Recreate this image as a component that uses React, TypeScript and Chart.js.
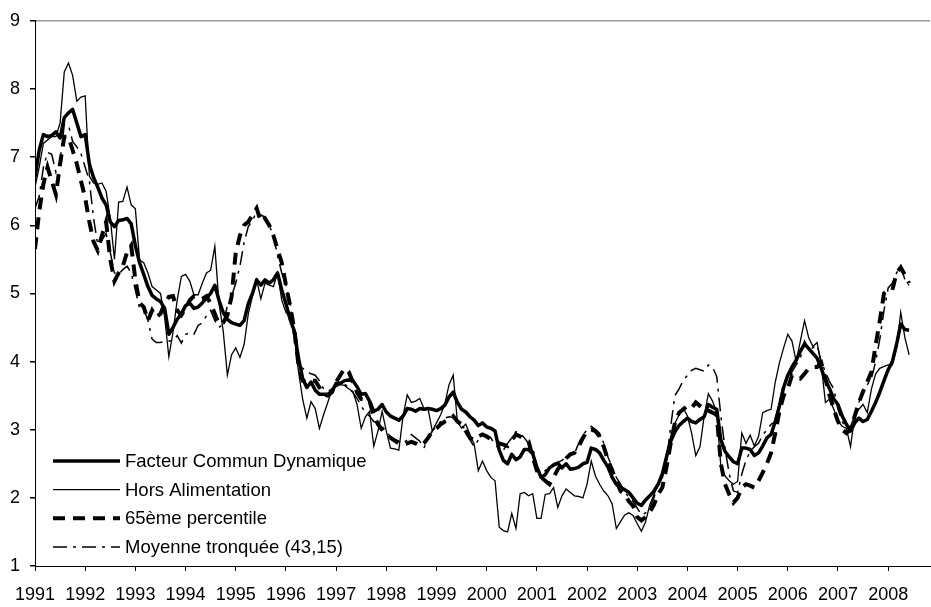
import React, { useEffect, useRef } from "react";
import { Chart, registerables } from "chart.js";

Chart.register(...registerables);

// Monthly observations, January 1991 to June 2008
const startYear = 1991;
const yearTicks = [1991, 1992, 1993, 1994, 1995, 1996, 1997, 1998, 1999, 2000, 2001, 2002, 2003, 2004, 2005, 2006, 2007, 2008];
const yTicks = [1, 2, 3, 4, 5, 6, 7, 8, 9];
const seriesNames = ["Facteur Commun Dynamique", "Hors Alimentation", "65ème percentile", "Moyenne tronquée (43,15)"];

const facteurCommun = [
  6.7, 7.1, 7.33, 7.3, 7.32, 7.37, 7.28, 7.58, 7.65, 7.7, 7.5, 7.3,
  7.33, 6.9, 6.7, 6.56, 6.4, 6.3, 6.05, 5.98, 6.07, 6.08, 6.1, 6.02,
  5.7, 5.45, 5.28, 5.1, 4.97, 4.92, 4.88, 4.78, 4.4, 4.5, 4.62, 4.7,
  4.82, 4.86, 4.78, 4.8, 4.86, 4.93, 5.0, 5.12, 4.9, 4.72, 4.62, 4.57,
  4.55, 4.53, 4.6, 4.85, 5.0, 5.2, 5.12, 5.2, 5.15, 5.2, 5.3, 5.05,
  4.85, 4.62, 4.45, 4.05, 3.75, 3.62, 3.7, 3.58, 3.52, 3.52, 3.52, 3.56,
  3.68, 3.68, 3.72, 3.73, 3.72, 3.63, 3.52, 3.53, 3.42, 3.27, 3.3, 3.37,
  3.26, 3.2, 3.17, 3.14, 3.2, 3.31, 3.3, 3.27, 3.31, 3.3, 3.31, 3.3,
  3.28, 3.31, 3.36, 3.48, 3.55, 3.4, 3.3, 3.26, 3.19, 3.14, 3.06, 3.1,
  3.04, 3.02, 2.98, 2.7, 2.55, 2.5, 2.64, 2.56, 2.6, 2.71, 2.71, 2.65,
  2.45, 2.3, 2.34, 2.44, 2.48, 2.51, 2.44, 2.5, 2.42, 2.43, 2.45, 2.5,
  2.52, 2.73, 2.71, 2.66, 2.55, 2.45, 2.3, 2.2, 2.15, 2.12, 2.08, 2.0,
  1.92, 1.89, 1.97, 2.03, 2.1, 2.2, 2.35, 2.6, 2.83, 2.97, 3.06, 3.12,
  3.17, 3.12, 3.1, 3.15, 3.19, 3.37, 3.33, 3.3, 2.85, 2.68, 2.6, 2.53,
  2.5, 2.73, 2.73, 2.71, 2.62, 2.66, 2.76, 2.88, 2.93, 3.12, 3.35, 3.62,
  3.8, 3.92, 4.02, 4.15, 4.26, 4.19, 4.12, 4.05, 3.9, 3.72, 3.6, 3.45,
  3.37, 3.2, 3.08, 2.98, 3.1, 3.17, 3.12, 3.15, 3.27, 3.4, 3.55, 3.72,
  3.88, 4.0, 4.25, 4.55, 4.47, 4.46,
];

const horsAlimentation = [
  6.56, 6.85, 7.2, 7.25, 7.3, 7.3, 7.5, 8.25, 8.38, 8.2, 7.82, 7.88,
  7.9, 6.72, 6.62, 6.6, 6.62, 6.5, 6.1, 5.5, 6.34, 6.35, 6.56, 6.3,
  6.24, 5.49, 5.45, 5.3, 5.1, 5.05, 5.0, 4.65, 4.07, 4.43, 4.9, 5.25,
  5.28, 5.18, 4.98, 4.98, 5.15, 5.3, 5.34, 5.69, 4.85, 4.45, 3.8, 4.1,
  4.2, 4.06, 4.25, 4.7, 4.96, 5.2, 4.92, 5.15, 5.12, 5.1, 5.3, 4.9,
  4.72, 4.65, 4.38, 3.85, 3.45, 3.17, 3.41, 3.31, 3.02, 3.22, 3.4, 3.59,
  3.63, 3.66, 3.65, 3.6, 3.56, 3.37, 3.02, 3.19, 3.27, 2.76, 2.98, 3.27,
  2.98, 2.73, 2.72, 2.7, 3.2, 3.51, 3.4, 3.42, 3.46, 3.31, 3.3, 2.98,
  3.1, 3.22, 3.38, 3.66, 3.8, 3.12, 3.02, 3.08, 2.93, 2.79, 2.4, 2.54,
  2.4, 2.3, 2.25, 1.57, 1.52, 1.5, 1.77, 1.55, 2.06, 2.08, 2.03, 2.06,
  1.7, 1.7, 2.05, 2.06, 2.15, 1.86, 2.03, 2.13, 2.08, 2.03, 2.02, 2.0,
  2.2, 2.54, 2.32, 2.2, 2.1, 2.03, 1.91, 1.55, 1.65, 1.75, 1.78, 1.74,
  1.62, 1.51, 1.65, 1.9, 2.05, 2.2, 2.35, 2.65, 2.9, 3.09, 3.22, 3.32,
  3.2, 2.95, 2.62, 2.75, 3.2, 3.53, 3.42, 3.25, 2.45, 2.32, 2.25, 2.2,
  2.24, 2.95, 2.8, 2.92, 2.76, 2.9, 3.25, 3.28, 3.3, 3.7, 3.98, 4.2,
  4.4, 4.3, 4.0, 4.3, 4.6, 4.35, 4.22, 4.28, 3.95, 3.4, 3.45, 3.3,
  3.12, 3.05, 3.02, 2.75, 3.2, 3.3, 3.37, 3.25, 3.6, 3.82, 3.9, 3.93,
  3.95, 3.95, 4.2, 4.72, 4.35, 4.1,
];

const percentile65 = [
  5.65, 6.2, 6.6, 6.85, 6.65, 6.45, 6.9, 7.3, 7.3, 7.1, 6.9, 6.65,
  6.4, 6.05, 5.76, 5.63, 5.85, 6.05, 5.5, 5.18, 5.3, 5.4, 5.6, 5.7,
  5.2, 4.86, 4.8, 4.6, 4.75, 4.65, 4.7, 4.85, 4.95, 4.96, 4.75, 4.68,
  4.78, 4.9, 4.96, 4.92, 4.92, 4.96, 4.85, 4.7, 4.55, 4.57, 4.68, 4.95,
  5.6, 5.85, 6.0, 6.05, 6.15, 6.25, 6.05, 6.1, 6.0, 5.85, 5.65, 5.45,
  5.12, 4.82, 4.47, 3.95, 3.72, 3.7, 3.72, 3.72, 3.62, 3.52, 3.5, 3.55,
  3.7, 3.8, 3.9, 3.85, 3.7, 3.55, 3.45, 3.44, 3.42, 3.2, 3.08, 3.0,
  2.92, 2.88, 2.84, 2.8, 2.78, 2.8, 2.82, 2.8, 2.76, 2.8, 2.88, 2.98,
  3.02, 3.08, 3.12, 3.15, 3.2, 3.12, 3.08, 2.98, 2.88, 2.85, 2.9, 2.93,
  2.9, 2.86, 2.82, 2.8, 2.78, 2.76, 2.85, 2.93, 2.9, 2.85, 2.83, 2.6,
  2.4, 2.3, 2.25, 2.2, 2.3, 2.42, 2.5, 2.58, 2.64, 2.66, 2.75, 2.88,
  2.98, 3.0, 2.98, 2.9, 2.75, 2.55, 2.4, 2.25, 2.1, 2.05, 1.95, 1.88,
  1.72, 1.67, 1.72, 1.79, 1.9, 2.05, 2.15, 2.45, 2.8, 3.1, 3.25, 3.3,
  3.35, 3.32, 3.4, 3.35, 3.3, 3.28, 3.25, 3.22, 2.5, 2.2, 2.05, 1.93,
  2.0, 2.15, 2.2, 2.18, 2.15, 2.25, 2.37, 2.5, 2.66, 2.95, 3.27, 3.5,
  3.6, 3.8, 3.78, 3.75, 3.82, 3.9, 3.92, 3.92, 3.98, 3.75, 3.5, 3.3,
  3.12, 3.0, 2.95, 3.0, 3.2, 3.4, 3.56, 3.7, 3.85, 4.24, 4.6, 5.0,
  5.05, 5.05, 5.3, 5.38, 5.27, 5.15,
];

const moyenneTronquee = [
  6.25, 6.42, 6.85, 7.07, 7.04, 6.78, 6.94, 7.48, 7.47, 7.23, 7.15, 7.05,
  6.85, 6.65, 6.1, 5.72, 5.78, 5.88, 5.6, 5.3, 5.28, 5.35, 5.4, 5.3,
  5.05, 4.78, 4.78, 4.6, 4.33, 4.28, 4.28, 4.3, 4.3, 4.31, 4.38, 4.27,
  4.4, 4.42, 4.4, 4.53, 4.57, 4.67, 4.75, 4.6, 4.5, 4.55, 4.82, 4.96,
  5.15, 5.4, 5.75, 5.98, 6.07, 6.2, 6.15, 6.12, 6.0, 5.85, 5.55, 5.3,
  5.12, 4.86, 4.3, 3.95, 3.9, 3.85, 3.82, 3.8, 3.72, 3.6, 3.56, 3.6,
  3.65, 3.7, 3.68, 3.6, 3.55, 3.46, 3.35, 3.25, 3.2, 3.12, 3.1, 3.05,
  2.97, 2.9, 2.86, 2.83, 2.8, 2.85, 2.93, 2.88, 2.83, 2.73, 2.88, 2.98,
  3.05, 3.12, 3.17, 3.19, 3.18, 3.12, 3.06, 3.0, 2.85, 2.75, 2.85, 2.93,
  2.92, 2.88, 2.78, 2.72, 2.7, 2.8, 2.88, 2.97, 2.95, 2.88, 2.8, 2.75,
  2.45, 2.35, 2.4, 2.45, 2.5, 2.52, 2.55, 2.6, 2.62, 2.65, 2.8, 2.92,
  3.0, 3.05, 3.0, 2.95, 2.8, 2.6, 2.45, 2.3, 2.2, 2.1, 2.0, 1.95,
  1.85, 1.75, 1.78, 1.85, 2.0, 2.2, 2.3, 2.55, 3.05, 3.5, 3.6, 3.72,
  3.8, 3.87, 3.9, 3.88, 3.86, 3.95, 3.92, 3.78, 3.2, 2.72, 2.35, 2.1,
  2.08, 2.35, 2.55, 2.68, 2.75, 2.8, 2.92, 3.0, 3.08, 3.12, 3.4, 3.68,
  3.78, 3.85, 3.95, 4.05, 4.3, 4.18, 4.2, 4.24, 4.0, 3.85, 3.7, 3.6,
  3.3, 3.12, 3.02, 3.05, 3.2, 3.4, 3.6, 3.66, 3.75, 4.0, 4.33, 4.75,
  5.08, 5.15, 5.3, 5.4, 5.2, 5.12,
];

const FONT = "'Liberation Sans', Arial, Helvetica, sans-serif";

const toPoints = (values: number[]) => values.map((v, i) => ({ x: startYear + i / 12, y: v }));

const insideLegend = {
  id: "insideLegend",
  afterDatasetsDraw(chart: any) {
    const { ctx, chartArea } = chart;
    const datasets = chart.data.datasets;
    const n = datasets.length;
    ctx.save();
    datasets.forEach((ds: any, k: number) => {
      const y = chartArea.bottom - 19 - (n - 1 - k) * 28.7;
      const x0 = chartArea.left + 18;
      const x1 = chartArea.left + 85;
      ctx.beginPath();
      ctx.setLineDash(ds.borderDash || []);
      ctx.lineWidth = ds.borderWidth;
      ctx.strokeStyle = ds.borderColor;
      ctx.lineCap = "butt";
      ctx.moveTo(x0, y);
      ctx.lineTo(x1, y);
      ctx.stroke();
      ctx.setLineDash([]);
      ctx.fillStyle = "#000";
      ctx.font = `18.5px ${FONT}`;
      ctx.textBaseline = "middle";
      ctx.textAlign = "left";
      ctx.fillText(ds.label, x1 + 5, y + 1);
    });
    ctx.restore();
  },
};

export default function App() {
  const canvasRef = useRef<HTMLCanvasElement | null>(null);

  useEffect(() => {
    document.body.style.margin = "0";
    const canvas = canvasRef.current;
    if (!canvas) return;
    const chart = new Chart(canvas, {
      type: "line",
      data: {
        datasets: [
          {
            label: seriesNames[0],
            data: toPoints(facteurCommun),
            borderColor: "#000",
            borderWidth: 3.5,
            borderJoinStyle: "round",
          },
          {
            label: seriesNames[1],
            data: toPoints(horsAlimentation),
            borderColor: "#000",
            borderWidth: 1.3,
          },
          {
            label: seriesNames[2],
            data: toPoints(percentile65),
            borderColor: "#000",
            borderWidth: 4,
            borderDash: [12, 8],
          },
          {
            label: seriesNames[3],
            data: toPoints(moyenneTronquee),
            borderColor: "#000",
            borderWidth: 1.5,
            borderDash: [14, 6, 3, 6],
          },
        ] as any,
      },
      options: {
        animation: false,
        responsive: true,
        maintainAspectRatio: false,
        parsing: false as any,
        layout: { padding: { top: 15, right: 1, left: 0, bottom: 0 } },
        elements: {
          line: { tension: 0, borderCapStyle: "butt", fill: false },
          point: { radius: 0, hoverRadius: 0 },
        },
        plugins: {
          legend: { display: false },
          tooltip: { enabled: false },
        },
        scales: {
          x: {
            type: "linear",
            min: startYear,
            max: startYear + 214 / 12,
            afterBuildTicks: (scale: any) => {
              scale.ticks = yearTicks.map((v) => ({ value: v }));
            },
            afterFit: (scale: any) => {
              scale.height = 41;
            },
            ticks: {
              autoSkip: false,
              maxRotation: 0,
              minRotation: 0,
              padding: 13,
              color: "#000",
              font: { family: FONT, size: 18 },
              callback: (v: any) => String(v),
            },
            grid: {
              drawOnChartArea: false,
              tickLength: 5,
              tickColor: "#000",
              color: "#000",
            },
            border: { display: true, color: "#000", width: 1 },
          },
          y: {
            type: "linear",
            min: yTicks[0],
            max: yTicks[yTicks.length - 1],
            afterBuildTicks: (scale: any) => {
              scale.ticks = yTicks.map((v) => ({ value: v }));
            },
            afterFit: (scale: any) => {
              scale.width = 35;
            },
            ticks: {
              padding: 10,
              color: "#000",
              font: { family: FONT, size: 18 },
              callback: (v: any) => String(v),
            },
            grid: {
              drawOnChartArea: true,
              tickLength: 5,
              tickColor: "#000",
              lineWidth: 1.5,
              color: (c: any) => (c.tick && c.tick.value === 9 ? "#999999" : "rgba(0,0,0,0)"),
            },
            border: { display: true, color: "#000", width: 1 },
          },
        },
      } as any,
      plugins: [insideLegend],
    });
    return () => chart.destroy();
  }, []);

  return (
    <div style={{ position: "relative", width: "931px", height: "607px" }}>
      <canvas ref={canvasRef} />
    </div>
  );
}
